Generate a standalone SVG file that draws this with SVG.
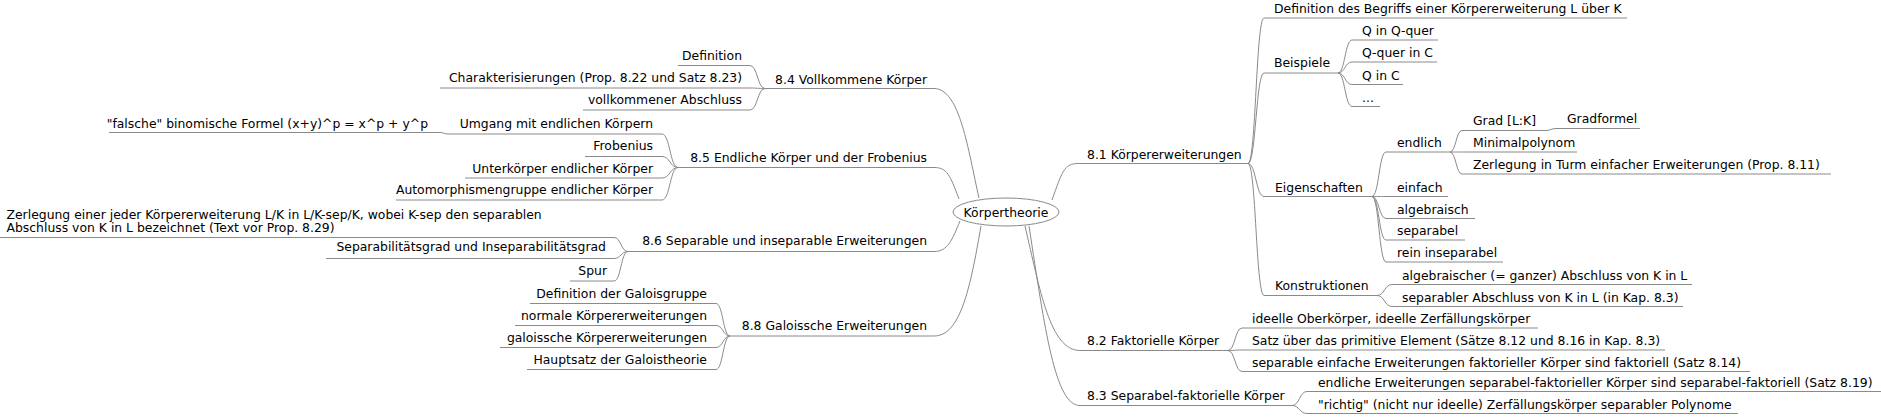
<svg xmlns="http://www.w3.org/2000/svg" width="1881" height="417" viewBox="0 0 1881 417">
<style>
text{font-family:"DejaVu Sans","Liberation Sans",sans-serif;font-size:12.4px;fill:#000}
.e{text-anchor:end}
.c{text-anchor:middle}
.l{stroke:#8a8a8a;stroke-width:1;fill:none}
</style>
<rect width="1881" height="417" fill="#fff"/>
<g id="connectors" class="l">
<path d="M1052,200 C1062,172 1064,163.5 1078,163.5"/>
<path d="M1025,226 C1040,290 1050,350.5 1080,350.5"/>
<path d="M1029,226 C1045,330 1055,405.5 1080,405.5"/>
<path d="M979,198 C968,150 960,88.5 934,88.5"/>
<path d="M959,199 C950,175 947,167.5 934,167.5"/>
<path d="M960,221 C952,240 948,251.5 934,251.5"/>
<path d="M981,226 C970,290 960,336 934,336"/>
<path d="M1248,163.5 C1256,163.5 1256,18 1264,18"/>
<path d="M1248,163.5 C1256,163.5 1256,73 1264,73"/>
<path d="M1248,163.5 C1256,163.5 1256,196.5 1264,196.5"/>
<path d="M1248,163.5 C1256,163.5 1256,295.5 1264,295.5"/>
<path d="M1338,73 C1345,73 1345,40 1352,40"/>
<path d="M1338,73 C1345,73 1345,62 1352,62"/>
<path d="M1338,73 C1345,73 1345,84.5 1352,84.5"/>
<path d="M1338,73 C1345,73 1345,106.5 1352,106.5"/>
<path d="M1372,196.5 C1379,196.5 1379,152 1386,152"/>
<path d="M1372,196.5 C1379,196.5 1379,196.5 1386,196.5"/>
<path d="M1372,196.5 C1379,196.5 1379,218.5 1386,218.5"/>
<path d="M1372,196.5 C1379,196.5 1379,240 1386,240"/>
<path d="M1372,196.5 C1379,196.5 1379,262 1386,262"/>
<path d="M1450,152 C1456,152 1456,130.5 1462,130.5"/>
<path d="M1450,152 C1456,152 1456,152 1462,152"/>
<path d="M1450,152 C1456,152 1456,174 1462,174"/>
<path d="M1546,130.5 C1551,130.5 1551,128.5 1556,128.5"/>
<path d="M1377,295.5 C1384.5,295.5 1384.5,284.5 1392,284.5"/>
<path d="M1377,295.5 C1384.5,295.5 1384.5,306.5 1392,306.5"/>
<path d="M1228,350.5 C1235,350.5 1235,328 1242,328"/>
<path d="M1228,350.5 C1235,350.5 1235,350 1242,350"/>
<path d="M1228,350.5 C1235,350.5 1235,371.5 1242,371.5"/>
<path d="M1292,405.5 C1299.5,405.5 1299.5,391.5 1307,391.5"/>
<path d="M1292,405.5 C1299.5,405.5 1299.5,413.5 1307,413.5"/>
<path d="M765,88.5 C757.5,88.5 757.5,65.5 750,65.5"/>
<path d="M765,88.5 C757.5,88.5 757.5,88 750,88"/>
<path d="M765,88.5 C757.5,88.5 757.5,110 750,110"/>
<path d="M678,167.5 C670,167.5 670,134 662,134"/>
<path d="M678,167.5 C670,167.5 670,156.5 662,156.5"/>
<path d="M678,167.5 C670,167.5 670,178 662,178"/>
<path d="M678,167.5 C670,167.5 670,200 662,200"/>
<path d="M448,134 C444,134 444,132.5 440,132.5"/>
<path d="M628,251.5 C621,251.5 621,237.5 614,237.5"/>
<path d="M628,251.5 C621,251.5 621,258.5 614,258.5"/>
<path d="M628,251.5 C621,251.5 621,281 614,281"/>
<path d="M730,336 C723,336 723,303.5 716,303.5"/>
<path d="M730,336 C723,336 723,325.5 716,325.5"/>
<path d="M730,336 C723,336 723,347.5 716,347.5"/>
<path d="M730,336 C723,336 723,369.5 716,369.5"/>
</g>
<g id="root"><ellipse cx="1006" cy="212" rx="53" ry="14" fill="#fff" stroke="#8a8a8a"/><text class="c" x="1006" y="216.5">Körpertheorie</text></g>
<g id="n81"><path class="l" d="M1078,163.5H1248"/><text x="1087" y="159">8.1 Körpererweiterungen</text></g>
<g id="n81a"><path class="l" d="M1264,18H1627"/><text x="1274" y="13">Definition des Begriffs einer Körpererweiterung L über K</text></g>
<g id="n81b"><path class="l" d="M1264,73H1338"/><text x="1274" y="67">Beispiele</text></g>
<g id="n81b1"><path class="l" d="M1352,40H1438"/><text x="1362" y="35">Q in Q-quer</text></g>
<g id="n81b2"><path class="l" d="M1352,62H1437"/><text x="1362" y="57">Q-quer in C</text></g>
<g id="n81b3"><path class="l" d="M1352,84.5H1403"/><text x="1362" y="79.5">Q in C</text></g>
<g id="n81b4"><path class="l" d="M1352,106.5H1380"/><text x="1362" y="101.5">...</text></g>
<g id="n81c"><path class="l" d="M1264,196.5H1372"/><text x="1275" y="192">Eigenschaften</text></g>
<g id="n81c1"><path class="l" d="M1386,152H1450"/><text x="1397" y="147">endlich</text></g>
<g id="n81c1a"><path class="l" d="M1462,130.5H1546"/><text x="1473" y="125">Grad [L:K]</text></g>
<g id="n81c1a1"><path class="l" d="M1556,128.5H1640"/><text x="1567" y="123">Gradformel</text></g>
<g id="n81c1b"><path class="l" d="M1462,152H1577"/><text x="1473" y="147">Minimalpolynom</text></g>
<g id="n81c1c"><path class="l" d="M1462,174H1831"/><text x="1473" y="168.5">Zerlegung in Turm einfacher Erweiterungen (Prop. 8.11)</text></g>
<g id="n81c2"><path class="l" d="M1386,196.5H1448"/><text x="1397" y="192">einfach</text></g>
<g id="n81c3"><path class="l" d="M1386,218.5H1475"/><text x="1397" y="213.5">algebraisch</text></g>
<g id="n81c4"><path class="l" d="M1386,240H1465"/><text x="1397" y="235">separabel</text></g>
<g id="n81c5"><path class="l" d="M1386,262H1503"/><text x="1397" y="257">rein inseparabel</text></g>
<g id="n81d"><path class="l" d="M1264,295.5H1377"/><text x="1275" y="290">Konstruktionen</text></g>
<g id="n81d1"><path class="l" d="M1392,284.5H1692"/><text x="1402" y="280">algebraischer (= ganzer) Abschluss von K in L</text></g>
<g id="n81d2"><path class="l" d="M1392,306.5H1683"/><text x="1402" y="302">separabler Abschluss von K in L (in Kap. 8.3)</text></g>
<g id="n82"><path class="l" d="M1080,350.5H1228"/><text x="1087" y="345">8.2 Faktorielle Körper</text></g>
<g id="n82a"><path class="l" d="M1242,328H1538"/><text x="1252" y="323">ideelle Oberkörper, ideelle Zerfällungskörper</text></g>
<g id="n82b"><path class="l" d="M1242,350H1665"/><text x="1252" y="345">Satz über das primitive Element (Sätze 8.12 und 8.16 in Kap. 8.3)</text></g>
<g id="n82c"><path class="l" d="M1242,371.5H1750"/><text x="1252" y="367">separable einfache Erweiterungen faktorieller Körper sind faktoriell (Satz 8.14)</text></g>
<g id="n83"><path class="l" d="M1080,405.5H1292"/><text x="1087" y="400">8.3 Separabel-faktorielle Körper</text></g>
<g id="n83a"><path class="l" d="M1307,391.5H1881"/><text x="1318" y="387">endliche Erweiterungen separabel-faktorieller Körper sind separabel-faktoriell (Satz 8.19)</text></g>
<g id="n83b"><path class="l" d="M1307,413.5H1738"/><text x="1318" y="408.5">"richtig" (nicht nur ideelle) Zerfällungskörper separabler Polynome</text></g>
<g id="n84"><path class="l" d="M765,88.5H934"/><text class="e" x="927" y="83.5">8.4 Vollkommene Körper</text></g>
<g id="n84a"><path class="l" d="M678,65.5H750"/><text class="e" x="742" y="60">Definition</text></g>
<g id="n84b"><path class="l" d="M440,88H750"/><text class="e" x="742" y="82">Charakterisierungen (Prop. 8.22 und Satz 8.23)</text></g>
<g id="n84c"><path class="l" d="M583,110H750"/><text class="e" x="742" y="103.5">vollkommener Abschluss</text></g>
<g id="n85"><path class="l" d="M678,167.5H934"/><text class="e" x="927" y="161.5">8.5 Endliche Körper und der Frobenius</text></g>
<g id="n85a"><path class="l" d="M448,134H662"/><text class="e" x="653" y="127.5">Umgang mit endlichen Körpern</text></g>
<g id="n85a1"><path class="l" d="M109,132.5H440"/><text class="e" x="428" y="127.5">"falsche" binomische Formel (x+y)^p = x^p + y^p</text></g>
<g id="n85b"><path class="l" d="M585,156.5H662"/><text class="e" x="653" y="150">Frobenius</text></g>
<g id="n85c"><path class="l" d="M465,178H662"/><text class="e" x="653" y="172.5">Unterkörper endlicher Körper</text></g>
<g id="n85d"><path class="l" d="M396,200H662"/><text class="e" x="653" y="194">Automorphismengruppe endlicher Körper</text></g>
<g id="n86"><path class="l" d="M628,251.5H934"/><text class="e" x="927" y="245">8.6 Separable und inseparable Erweiterungen</text></g>
<g id="n86a"><path class="l" d="M0,237.5H614"/><text x="6.5" y="218.5">Zerlegung einer jeder Körpererweiterung L/K in L/K-sep/K, wobei K-sep den separablen</text><text x="6.5" y="232">Abschluss von K in L bezeichnet (Text vor Prop. 8.29)</text></g>
<g id="n86b"><path class="l" d="M326,258.5H614"/><text class="e" x="606" y="251">Separabilitätsgrad und Inseparabilitätsgrad</text></g>
<g id="n86c"><path class="l" d="M570,281H614"/><text class="e" x="607" y="275">Spur</text></g>
<g id="n88"><path class="l" d="M730,336H934"/><text class="e" x="927" y="330">8.8 Galoissche Erweiterungen</text></g>
<g id="n88a"><path class="l" d="M530,303.5H716"/><text class="e" x="707" y="297.5">Definition der Galoisgruppe</text></g>
<g id="n88b"><path class="l" d="M515,325.5H716"/><text class="e" x="707" y="320">normale Körpererweiterungen</text></g>
<g id="n88c"><path class="l" d="M500,347.5H716"/><text class="e" x="707" y="341.5">galoissche Körpererweiterungen</text></g>
<g id="n88d"><path class="l" d="M527,369.5H716"/><text class="e" x="707" y="364">Hauptsatz der Galoistheorie</text></g>
</svg>
